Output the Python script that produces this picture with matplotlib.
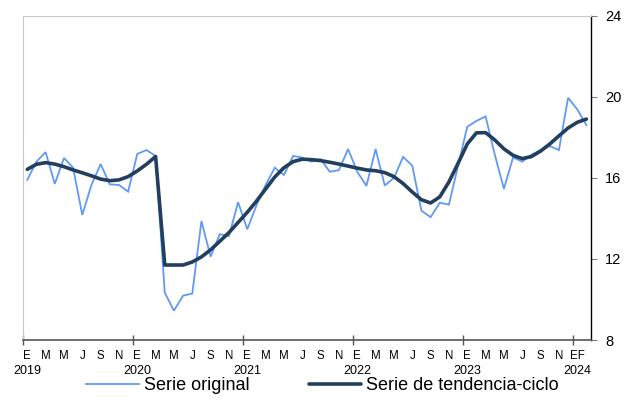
import matplotlib
matplotlib.use("Agg")
import matplotlib.pyplot as plt
import numpy as np

plt.rcParams['font.family'] = ['Liberation Sans', 'DejaVu Sans']

years = ['2019', '2020', '2021', '2022', '2023', '2024']
month_letters = ['E', 'F', 'M', 'A', 'M', 'J', 'J', 'A', 'S', 'O', 'N', 'D']

serie_original = [
    15.9, 16.8, 17.27, 15.7, 16.98, 16.5, 14.17, 15.65, 16.68, 15.68, 15.65, 15.32,
    17.18, 17.37, 17.08, 10.33, 9.45, 10.19, 10.29, 13.87, 12.11, 13.22, 13.13, 14.8,
    13.46, 14.64, 15.65, 16.5, 16.14, 17.08, 17.0, 16.8, 16.92, 16.3, 16.38, 17.42,
    16.3, 15.6, 17.42, 15.62, 16.0, 17.03, 16.6, 14.38, 14.06, 14.77, 14.68, 16.6,
    18.52, 18.81, 19.03, 17.15, 15.46, 17.01, 16.8, 17.14, 17.37, 17.57, 17.37, 19.95,
    19.38, 18.6,
]
serie_tendencia = [
    16.42, 16.67, 16.75, 16.68, 16.55, 16.39, 16.25, 16.1, 15.94, 15.86, 15.9, 16.06,
    16.34, 16.67, 17.05, 11.7, 11.7, 11.7, 11.85, 12.1, 12.45, 12.87, 13.3, 13.8,
    14.3, 14.85, 15.45, 16.04, 16.5, 16.8, 16.92, 16.9, 16.85, 16.77, 16.68, 16.58,
    16.48, 16.39, 16.35, 16.26, 16.06, 15.72, 15.3, 14.92, 14.76, 15.06, 15.8, 16.72,
    17.67, 18.22, 18.23, 17.87, 17.43, 17.11, 16.95, 17.05, 17.32, 17.67, 18.07, 18.46,
    18.74, 18.9,
]
y_ticks = [8, 12, 16, 20, 24]

n = len(serie_original)
x = np.arange(n) + 0.5

fig = plt.figure(figsize=(6.39, 4.0), dpi=100)
ax = fig.add_axes([22.7/639, 1-340/400, (591-22.7)/639, (340-15.7)/400])

ax.plot(x, serie_original, color='#6199F5', lw=1.3, label='Serie original', solid_joinstyle='miter')
ax.plot(x, serie_tendencia, color='#233F5F', lw=2.6, label='Serie de tendencia-ciclo',
        solid_joinstyle='round', solid_capstyle='round')

ax.set_xlim(0, n)
ax.set_ylim(8, 24)

# y axis on right
ax.yaxis.tick_right()
ax.set_yticks(y_ticks)
ax.set_yticklabels([str(v) for v in y_ticks], fontsize=10.5)
ax.tick_params(axis='y', direction='out', length=4, width=0.8, color='#808080', pad=6)

# x axis: year boundaries as major ticks, month letters as minor tick labels
ax.set_xticks(np.arange(0, n, 12))
ax.set_xticklabels([])
ax.tick_params(axis='x', which='major', direction='inout', length=7, width=1.0, color='#555555')
minor_pos = []
minor_lab = []
for i in range(n):
    m = i % 12
    if i >= 60:
        if i == 60:
            minor_pos.append(i + 0.5)
            minor_lab.append('EF')
    elif m % 2 == 0:
        minor_pos.append(i + 0.5)
        minor_lab.append(month_letters[m])
ax.set_xticks(minor_pos, minor=True)
ax.set_xticklabels(minor_lab, minor=True, fontsize=8.3)
ax.tick_params(axis='x', which='minor', length=0, pad=7.5)

# year labels under each January
for k, yr in enumerate(years):
    ax.annotate(yr, xy=(k * 12 + 0.5, 0), xycoords=('data', 'axes fraction'),
                xytext=(0, -22.5), textcoords='offset points',
                ha='center', va='center', fontsize=9)

for s in ['left', 'top']:
    ax.spines[s].set_color('#c8c8c8')
    ax.spines[s].set_linewidth(0.8)
ax.spines['right'].set_color('black')
ax.spines['right'].set_linewidth(1.0)
ax.spines['bottom'].set_color('#555555')
ax.spines['bottom'].set_linewidth(1.2)

fig.legend(loc='center', bbox_to_anchor=(0.505, 0.035), ncol=2, frameon=False,
           fontsize=13, handlelength=2.9, handletextpad=0.28, columnspacing=3.3,
           borderpad=0, borderaxespad=0)

fig.savefig('out.png', dpi=100)
